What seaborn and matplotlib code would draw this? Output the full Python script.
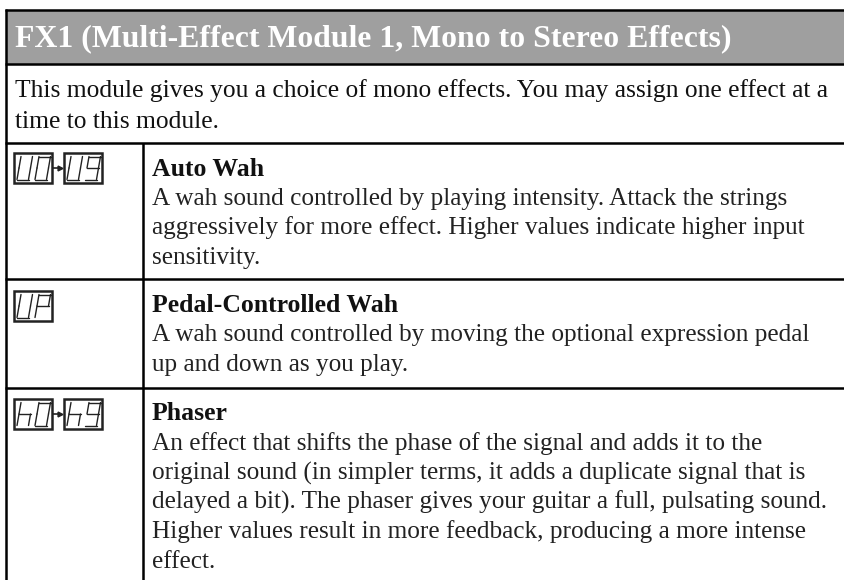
import matplotlib.pyplot as plt
import seaborn as sns

# --- text of the table ---
header = 'FX1 (Multi-Effect Module 1, Mono to Stereo Effects)'
intro_lines = ['This module gives you a choice of mono effects. You may assign one effect at a',
               'time to this module.']
intro_base = [97.5, 127.5]
titles = ['Auto Wah', 'Pedal-Controlled Wah', 'Phaser']
title_base = [175.5, 312, 420.5]
body_lines = [
    ['A wah sound controlled by playing intensity. Attack the strings',
     'aggressively for more effect. Higher values indicate higher input',
     'sensitivity.'],
    ['A wah sound controlled by moving the optional expression pedal',
     'up and down as you play.'],
    ['An effect that shifts the phase of the signal and adds it to the',
     'original sound (in simpler terms, it adds a duplicate signal that is',
     'delayed a bit). The phaser gives your guitar a full, pulsating sound.',
     'Higher values result in more feedback, producing a more intense',
     'effect.'],
]
lcd_labels = [('U0', 'U9'), ('UP', None), ('h0', 'h9')]
lcd_top = [153, 291, 399]
rules = [10, 64, 143, 279, 388]

# seven segment shapes: a top, b top right, c low right, d bottom, e low left, f top left, g middle
glyphs = {'U': 'bcdef', '0': 'abcdef', '9': 'abcdfg', 'P': 'abefg', 'h': 'cefg'}
seg_ends = {'a': ((0, 0), (1, 0)), 'b': ((1, 0), (1, .5)), 'c': ((1, .5), (1, 1)), 'd': ((0, 1), (1, 1)),
            'e': ((0, .5), (0, 1)), 'f': ((0, 0), (0, .5)), 'g': ((0, .5), (1, .5))}

sns.set_theme(style='white')
plt.rcParams['font.family'] = ['Liberation Serif', 'DejaVu Serif']
fig = plt.figure(figsize=(8.44, 5.8), dpi=100)
ax = fig.add_axes([0, 0, 1, 1])
ax.set_xlim(0, 844)
ax.set_ylim(580, 0)
ax.axis('off')

# header band and table rules
ax.axhspan(rules[0], rules[1], xmin=6 / 844, color='#9f9f9f', lw=0)
for y in rules:
    ax.plot([5, 844], [y, y], color='black', lw=1.8, solid_capstyle='butt')
ax.plot([6, 6], [9, 580], color='black', lw=1.8, solid_capstyle='butt')
ax.plot([142.5, 142.5], [rules[2], 580], color='black', lw=1.8, solid_capstyle='butt')

ax.text(15, 46, header, color='white', fontsize=22.9, fontweight='bold', va='baseline')
for y, line in zip(intro_base, intro_lines):
    ax.text(15, y, line, color='#111111', fontsize=18.4, va='baseline')


def draw_digit(x, y, ch):
    w, h, slant = 11.5, 23, 4
    for s in glyphs[ch]:
        (x0, y0), (x1, y1) = seg_ends[s]
        px = [x + x0 * w + (1 - y0) * slant, x + x1 * w + (1 - y1) * slant]
        py = [y + y0 * h, y + y1 * h]
        ax.plot(px, py, color='#222222', lw=1.0, solid_capstyle='round')


def draw_lcd(x, y, text):
    ax.add_patch(plt.Rectangle((x, y), 38, 30, fill=False, ec='#222222', lw=1.8))
    draw_digit(x + 3, y + 3.5, text[0])
    draw_digit(x + 21, y + 3.5, text[1])


for top, (first, second) in zip(lcd_top, lcd_labels):
    draw_lcd(14, top, first)
    if second:
        ax.plot([53, 60], [top + 15, top + 15], color='#222222', lw=1.2)
        ax.plot([60], [top + 15], marker='>', ms=3.5, color='#222222')
        draw_lcd(64, top, second)

for title, y, lines in zip(titles, title_base, body_lines):
    ax.text(152, y, title, color='#111111', fontsize=18.5, fontweight='bold', va='baseline')
    for i, line in enumerate(lines):
        ax.text(152, y + 29.4 * (i + 1), line, color='#222222', fontsize=18.2, va='baseline')

sns.despine(ax=ax, left=True, bottom=True)
plt.savefig('out.png', dpi=100)
